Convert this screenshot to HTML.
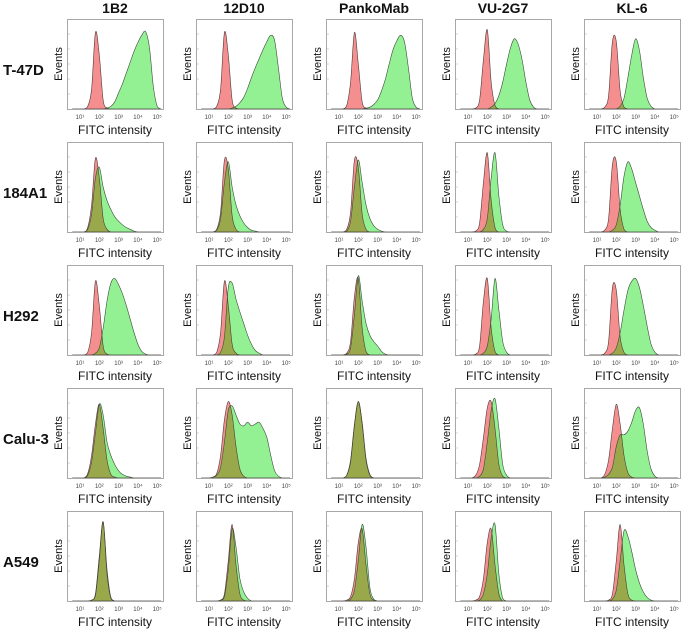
<!DOCTYPE html>
<html><head><meta charset="utf-8"><style>
html,body{margin:0;padding:0;background:#fff}
svg{display:block;font-family:"Liberation Sans","Noto Sans CJK JP",sans-serif}
</style></head><body>
<svg id="fig" width="683" height="636" viewBox="0 0 683 636"></svg>
<script>
const antibodies = ["1B2","12D10","PankoMab","VU-2G7","KL-6"];
const cellLines = ["T-47D","184A1","H292","Calu-3","A549"];
const binStart = 0.6, binStep = 0.2;
const tickLabels = ["10¹","10²","10³","10⁴","10⁵"];
const tickLogs = [1,2,3,4,5];
const z = n => Array(n).fill(0);
// control (red) histograms, row-major [row][col], bins log10 0.6..5.2 step 0.2
const control = [
 [[0,0,0,0,3,22,85,60,10,1,...z(14)],[0,0,0,0,3,22,85,60,10,1,...z(14)],[0,0,0,0,4,30,85,50,8,1,...z(14)],[0,0,0,0,1,10,55,88,30,4,...z(14)],[0,0,0,0,2,15,75,75,20,2,...z(14)]],
 [[0,0,0,0,5,30,82,60,15,3,...z(14)],[0,0,0,0,3,22,80,70,18,3,...z(14)],[0,0,0,0,3,22,80,72,20,3,...z(14)],[0,0,0,0,1,10,55,88,35,5,...z(14)],[0,0,0,0,2,15,75,78,25,3,...z(14)]],
 [[0,0,0,0,3,25,82,55,10,1,...z(14)],[0,0,0,0,3,25,82,55,12,2,...z(14)],[0,0,0,0,2,15,65,85,30,4,...z(14)],[0,0,0,0,1,10,60,85,30,4,...z(14)],[0,0,0,0,2,15,75,72,20,3,...z(14)]],
 [[0,0,0,0,5,25,60,82,55,20,4,1,...z(12)],[0,0,0,1,5,25,65,85,70,35,10,2,...z(12)],[0,0,0,0,3,20,60,85,60,20,3,0,...z(12)],[0,0,0,0,3,15,45,78,85,55,15,2,...z(12)],[0,0,0,0,4,20,55,82,60,25,6,1,...z(12)]],
 [[0,0,0,0,0,1,8,50,88,30,3,0,...z(12)],[0,0,0,0,0,1,8,45,85,40,8,1,...z(12)],[0,0,0,0,1,5,25,65,80,40,8,1,...z(12)],[0,0,0,0,1,5,25,65,80,40,8,0,...z(12)],[0,0,0,0,0,1,8,45,85,40,8,1,...z(12)]]
];
// antibody-stained (green) histograms
const stained = [
 [[0,0,0,0,0,0,0,0,0,1,3,8,18,28,40,52,64,74,82,86,68,25,3,0],[0,0,0,0,0,0,0,0,1,3,7,13,23,35,46,56,66,75,82,76,45,12,2,0],[0,0,0,0,0,0,0,0,0,1,2,5,10,20,33,50,66,76,82,74,45,12,2,0],[0,0,0,0,0,0,0,0,2,6,15,30,50,68,78,72,55,30,10,2,0,0,0,0],[0,0,0,0,0,0,0,0,3,12,35,60,78,65,35,12,3,0,0,0,0,0,0,0]],
 [[0,0,0,0,3,20,60,72,50,35,25,17,12,8,5,3,1,0,0,0,0,0,0,0],[0,0,0,0,2,15,55,78,50,30,18,10,5,2,1,0,0,0,0,0,0,0,0,0],[0,0,0,0,1,12,50,80,55,30,15,7,3,1,0,0,0,0,0,0,0,0,0,0],[0,0,0,0,0,0,3,15,60,88,40,8,1,0,0,0,0,0,0,0,0,0,0,0],[0,0,0,0,0,0,2,8,30,62,78,70,55,40,25,12,5,2,0,0,0,0,0,0]],
 [[0,0,0,0,0,0,2,8,30,60,80,85,78,68,55,40,25,12,4,1,0,0,0,0],[0,0,0,0,0,3,20,75,80,62,48,35,22,12,5,2,0,0,0,0,0,0,0,0],[0,0,0,0,1,8,45,88,60,35,22,15,10,4,1,0,0,0,0,0,0,0,0,0],[0,0,0,0,0,0,2,10,40,85,50,15,3,0,0,0,0,0,0,0,0,0,0,0],[0,0,0,0,0,0,2,8,25,50,72,82,85,75,55,32,12,3,0,0,0,0,0,0]],
 [[0,0,0,0,3,18,50,82,70,40,25,15,8,4,2,1,0,0,0,0,0,0,0,0],[0,0,0,1,3,12,40,75,80,70,60,58,62,58,60,62,55,45,25,8,2,0,0,0],[0,0,0,0,3,18,58,85,62,22,4,0,0,0,0,0,0,0,0,0,0,0,0,0],[0,0,0,0,0,2,10,40,75,88,55,15,3,0,0,0,0,0,0,0,0,0,0,0],[0,0,0,0,1,4,12,35,48,48,52,62,75,78,60,30,10,2,0,0,0,0,0,0]],
 [[0,0,0,0,0,1,6,45,88,35,4,0,0,0,0,0,0,0,0,0,0,0,0,0],[0,0,0,0,0,1,5,35,80,60,25,10,3,0,0,0,0,0,0,0,0,0,0,0],[0,0,0,0,0,2,12,45,85,60,15,2,0,0,0,0,0,0,0,0,0,0,0,0],[0,0,0,0,0,1,8,30,70,85,30,3,0,0,0,0,0,0,0,0,0,0,0,0],[0,0,0,0,0,0,2,12,45,78,72,55,35,20,10,4,1,0,0,0,0,0,0,0]]
];

const NS = "http://www.w3.org/2000/svg";
const svg = document.getElementById("fig");
const defs = document.createElementNS(NS,"defs"); svg.appendChild(defs);
const colLeft = [67,196,326,455,584], rowTop = [19,142,265,388,511];
const W = 96, H = 90;
function mk(tag, attrs, parent){const e=document.createElementNS(NS,tag);for(const k in attrs)e.setAttribute(k,attrs[k]);(parent||svg).appendChild(e);return e;}
function xScale(left, lg){return left + 13 + (lg - 1) * 19.3;}
function yScale(top, v){return top + H - v / 100 * H;}
function curve(vals, left, top){
  const pts = vals.map((v,i)=>[xScale(left, binStart + i*binStep), yScale(top, v)]);
  const base = top + H;
  let d = "M" + pts[0][0].toFixed(2) + "," + base + " L" + pts[0][0].toFixed(2) + "," + pts[0][1].toFixed(2);
  for(let i=0;i<pts.length-1;i++){
    const p0=pts[Math.max(0,i-1)],p1=pts[i],p2=pts[i+1],p3=pts[Math.min(pts.length-1,i+2)];
    const c1x=p1[0]+(p2[0]-p0[0])/6, c1y=Math.min(base,p1[1]+(p2[1]-p0[1])/6);
    const c2x=p2[0]-(p3[0]-p1[0])/6, c2y=Math.min(base,p2[1]-(p3[1]-p1[1])/6);
    d += " C"+c1x.toFixed(2)+","+c1y.toFixed(2)+" "+c2x.toFixed(2)+","+c2y.toFixed(2)+" "+p2[0].toFixed(2)+","+p2[1].toFixed(2);
  }
  d += " L" + pts[pts.length-1][0].toFixed(2) + "," + base + " Z";
  return d;
}

antibodies.forEach((ab,c)=>{
  const t = mk("text",{x:colLeft[c]+W/2,y:13,"text-anchor":"middle","font-size":14,"font-weight":"bold",fill:"#111"});
  
  
  t.textContent = ab;
});
cellLines.forEach((cl,r)=>{
  const t = mk("text",{x:3,y:rowTop[r]+56,"font-size":15,"font-weight":"bold",fill:"#111"});
  
  
  t.textContent = cl;
});

for(let r=0;r<5;r++)for(let c=0;c<5;c++){
  const L=colLeft[c], T=rowTop[r];
  const g = mk("g",{});
  
  
  const gd = curve(stained[r][c],L,T), rd = curve(control[r][c],L,T);
  const cp = mk("clipPath",{id:"clip"+r+c},defs);
  mk("path",{d:gd},cp);
  const gp = mk("path",{d:gd,fill:"#93f193"},g);
  
  
  const rp = mk("path",{d:rd,fill:"#f58e8e"},g);
  
  
  const op = mk("path",{d:rd,fill:"#98a84a","clip-path":"url(#clip"+r+c+")"},g);
  
  
  mk("path",{d:gd,fill:"none",stroke:"#3a4a3a","stroke-width":0.6},g);
  mk("path",{d:rd,fill:"none",stroke:"#4a3a3a","stroke-width":0.6},g);
  const fr = mk("rect",{x:L+0.5,y:T+0.5,width:W,height:H,fill:"none",stroke:"#a8a8a8","stroke-width":1},g);
  
  
  for(let k=1;k<6;k++){mk("line",{x1:L+1,x2:L+3,y1:T+k*H/6,y2:T+k*H/6,stroke:"#bbb","stroke-width":0.6},g);}
  tickLogs.forEach((lg,i)=>{
    const tx = mk("text",{x:xScale(L,lg),y:T+H+10,"text-anchor":"middle","font-size":6,fill:"#444"},g);
    
    
    tx.textContent = tickLabels[i];
  });
  const xt = mk("text",{x:L+W/2,y:T+H+25,"text-anchor":"middle","font-size":12,fill:"#111"},g);
  
  
  xt.textContent = "FITC intensity";
  const yt = mk("text",{x:0,y:0,"text-anchor":"middle","font-size":11,fill:"#111",transform:"translate("+(L-5)+","+(T+H/2)+") rotate(-90)"},g);
  
  
  yt.textContent = "Events";
}
</script>
</body></html>
